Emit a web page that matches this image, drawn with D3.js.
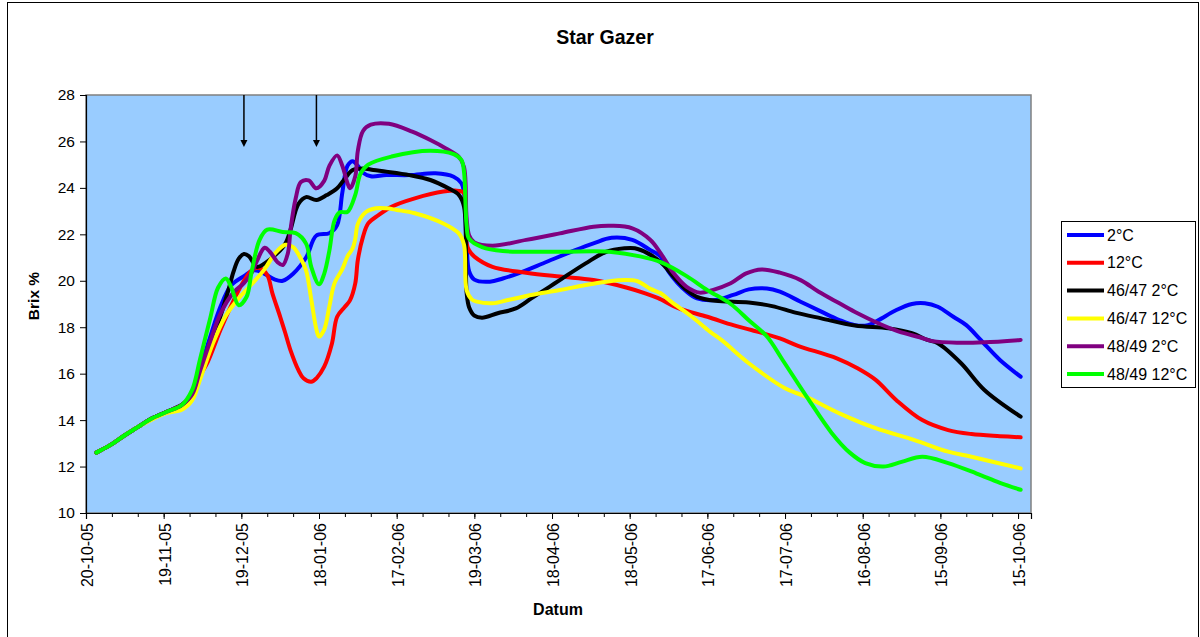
<!DOCTYPE html>
<html>
<head>
<meta charset="utf-8">
<script src="https://cdn.jsdelivr.net/npm/d3@7"></script>
<style>
  body { margin: 0; background: #fff; }
  svg { display: block; }
  text { font-family: "Liberation Sans", Arial, sans-serif; fill: #000; }
</style>
</head>
<body>
<svg id="chart" width="1200" height="637"></svg>
<script>
// ---- data -------------------------------------------------------------
// Day numbers count from the first date on the axis (20-10-05).
const firstDay = "20-10-05";
const xTickLabels = ["20-10-05","19-11-05","19-12-05","18-01-06","17-02-06","19-03-06",
  "18-04-06","18-05-06","17-06-06","17-07-06","16-08-06","15-09-06","15-10-06"];
const yTicks = [10, 12, 14, 16, 18, 20, 22, 24, 26, 28];
const arrowDays = [61, 89];

const seriesNames  = ["2°C", "12°C", "46/47 2°C", "46/47 12°C", "48/49 2°C", "48/49 12°C"];
const seriesColors = ["#0000FF", "#FF0000", "#000000", "#FFFF00", "#800080", "#00FF00"];

const days2C = [4,9,15,20,25,31,37,41,44,48,52,56,61,65,69,73,76,80,85,89,94,97,99,101,103,105,107,110,116,125,135,142,145,146,147,148,150,156,161,167,178,189,196,203,211,218,222,225,232,236,243,250,256,263,268,276,284,291,297,302,306,313,319,324,329,335,340,345,348,353,361];
const brix2C = [12.6,12.9,13.35,13.7,14.05,14.35,14.65,15.1,16.2,17.6,18.9,19.8,20.2,20.45,20.3,20.05,20.0,20.3,21.0,21.95,22.05,22.4,23.8,24.95,25.15,24.95,24.65,24.5,24.55,24.55,24.63,24.48,24.2,23.8,21.6,20.4,20.05,19.96,20.1,20.32,20.82,21.32,21.61,21.85,21.76,21.32,21.04,20.4,19.53,19.24,19.17,19.39,19.63,19.67,19.53,19.1,18.67,18.31,18.09,18.09,18.3,18.74,19.0,19.03,18.88,18.45,18.09,17.52,17.16,16.59,15.87];

const days12C = [4,9,15,20,25,31,37,41,44,47,52,57,61,64,67,70,72,75,77,79,82,84,87,89,92,95,97,100,102,104,105,107,109,113,118,127,138,144,146,147,148,150,157,170,183,196,209,216,221,229,240,250,257,268,275,290,298,305,313,323,333,342,353,361];
const brix12C = [12.6,12.9,13.35,13.7,14.05,14.35,14.65,15.1,15.9,16.5,17.9,19.15,20.0,20.45,20.55,20.25,19.46,18.45,17.74,17.0,16.16,15.8,15.65,15.8,16.3,17.3,18.45,18.88,19.17,19.89,20.9,21.9,22.47,22.83,23.19,23.55,23.84,23.87,23.77,21.6,21.3,21.04,20.6,20.35,20.18,20.03,19.7,19.46,19.25,18.81,18.45,18.09,17.88,17.52,17.2,16.66,16.23,15.73,14.86,14.0,13.57,13.4,13.31,13.26];

const days4647_2C = [4,9,15,20,25,31,37,41,44,48,52,55,57,59,61,63,66,69,74,77,79,82,85,89,93,97,100,103,107,111,116,125,133,140,144,146,147,148,150,153,159,166,172,179,183,193,201,208,212,217,222,227,232,236,243,256,265,274,284,297,310,319,325,329,338,347,361];
const brix4647_2C = [12.6,12.9,13.35,13.7,14.05,14.35,14.65,15.1,16.0,17.2,18.5,19.6,20.4,20.95,21.15,21.05,20.6,20.75,21.2,21.6,22.2,23.3,23.6,23.48,23.69,23.98,24.4,24.77,24.84,24.77,24.7,24.55,24.34,23.98,23.7,23.2,19.5,18.85,18.5,18.41,18.6,18.81,19.24,19.74,20.03,20.75,21.25,21.4,21.4,21.18,20.8,20.17,19.6,19.31,19.14,19.06,18.91,18.63,18.38,18.07,17.95,17.74,17.45,17.31,16.45,15.3,14.15];

const days4647_12C = [4,9,15,20,25,31,37,41,44,49,54,59,64,69,73,77,80,83,85,87,89,90,92,94,96,99,101,103,104,105,108,112,116,120,127,138,144,146,147,149,151,157,163,172,183,193,201,208,213,218,222,226,234,241,246,256,270,278,291,305,320,333,342,361];
const brix4647_12C = [12.6,12.9,13.35,13.7,14.0,14.3,14.45,14.85,15.73,17.3,18.5,19.25,19.85,20.5,21.18,21.55,21.45,20.95,20.45,19.2,17.9,17.6,17.9,18.9,19.9,20.5,21.05,21.4,21.8,22.45,22.95,23.12,23.12,23.05,22.91,22.47,22.04,21.55,19.6,19.2,19.1,19.03,19.17,19.39,19.6,19.82,19.96,20.03,19.98,19.65,19.46,19.1,18.45,17.81,17.4,16.45,15.37,15.01,14.29,13.65,13.14,12.64,12.42,11.92];

const days4849_2C = [4,9,15,20,25,31,37,41,44,48,52,57,61,64,66,69,71,74,76,78,79,81,83,86,89,92,94,97,99,101,102,104,105,107,110,117,126,133,139,144,146,147,148,150,157,170,183,196,203,211,218,222,227,232,237,242,249,255,261,268,276,283,291,298,306,314,322,327,337,347,361];
const brix4849_2C = [12.6,12.9,13.35,13.7,14.05,14.35,14.65,15.1,16.1,17.4,18.6,19.5,19.9,20.35,20.85,21.42,21.25,20.8,20.68,21.2,22.2,23.55,24.25,24.32,23.98,24.3,24.95,25.4,24.95,24.2,23.98,24.5,25.6,26.45,26.72,26.76,26.42,26.06,25.7,25.34,24.9,22.7,21.95,21.65,21.51,21.76,22.04,22.33,22.37,22.26,21.76,21.18,20.32,19.74,19.49,19.6,19.89,20.32,20.49,20.35,20.03,19.53,19.03,18.6,18.17,17.81,17.57,17.4,17.33,17.35,17.45];

const days4849_12C = [4,9,15,20,25,31,37,41,44,48,51,54,56,59,62,64,67,70,76,81,85,87,90,92,94,96,98,101,104,106,109,118,133,142,145,146,147,148,153,161,183,202,214,222,232,240,249,256,263,269,279,288,295,301,308,315,323,333,344,353,361];
const brix4849_12C = [12.6,12.9,13.35,13.7,14.05,14.35,14.65,15.3,16.6,18.4,19.7,20.1,19.75,18.95,19.3,20.4,21.75,22.2,22.1,22.05,21.6,20.6,19.85,20.3,21.3,22.6,22.95,22.97,23.7,24.6,25.0,25.35,25.6,25.45,25.2,24.7,22.4,21.8,21.45,21.28,21.25,21.25,21.05,20.8,20.2,19.6,19.0,18.3,17.6,16.6,14.9,13.45,12.6,12.15,12.0,12.2,12.42,12.15,11.7,11.3,11.0];

const seriesDays = [days2C, days12C, days4647_2C, days4647_12C, days4849_2C, days4849_12C];
const seriesBrix = [brix2C, brix12C, brix4647_2C, brix4647_12C, brix4849_2C, brix4849_12C];

// ---- setup ------------------------------------------------------------
const parseLabel = d3.timeParse("%d-%m-%y");
const fmtLabel = d3.timeFormat("%d-%m-%y");
const start = parseLabel(firstDay);
const dayToDate = d => d3.timeDay.offset(start, d);

const svg = d3.select("#chart");
const plot = { left: 86, right: 1031, top: 95, bottom: 513 };

const x = d3.scaleTime()
  .domain([start, dayToDate(365)])
  .range([plot.left, plot.right]);
const y = d3.scaleLinear()
  .domain([10, 28])
  .range([plot.bottom, plot.top]);

// outer chart frame
svg.append("rect")
  .attr("x", 7.5).attr("y", 2.5)
  .attr("width", 1191).attr("height", 640)
  .attr("fill", "#fff").attr("stroke", "#000").attr("stroke-width", 1);

// plot area
svg.append("rect")
  .attr("x", plot.left).attr("y", plot.top)
  .attr("width", plot.right - plot.left).attr("height", plot.bottom - plot.top)
  .attr("fill", "#99CCFF").attr("stroke", "#808080").attr("stroke-width", 1.5);

// title
svg.append("text")
  .attr("x", 605).attr("y", 44)
  .attr("text-anchor", "middle")
  .style("font-size", "19.5px").style("font-weight", "bold")
  .text("Star Gazer");

// ---- axes -------------------------------------------------------------
const yAxis = d3.axisLeft(y).tickValues(yTicks).tickSize(6).tickPadding(5)
  .tickFormat(d3.format("d"));
const gy = svg.append("g").attr("transform", `translate(${plot.left},0)`).call(yAxis);
gy.select(".domain").attr("stroke", "#000").attr("stroke-width", 1.2);
gy.selectAll(".tick line").attr("stroke", "#000");
gy.selectAll(".tick text").style("font-size", "15.5px").style("font-family", "Liberation Sans, Arial, sans-serif");

// minor ticks every 10 days
const minorDates = d3.range(0, 361, 10).map(dayToDate);
svg.append("g").attr("transform", `translate(0,${plot.bottom})`)
  .call(d3.axisBottom(x).tickValues(minorDates).tickSize(4).tickFormat(""))
  .call(g => g.select(".domain").remove())
  .selectAll(".tick line").attr("stroke", "#000");

const majorDates = xTickLabels.map(parseLabel);
const xAxis = d3.axisBottom(x).tickValues(majorDates).tickSize(6).tickFormat(fmtLabel);
const gx = svg.append("g").attr("transform", `translate(0,${plot.bottom})`).call(xAxis);
gx.select(".domain").attr("stroke", "#000").attr("stroke-width", 1.2);
gx.selectAll(".tick line").attr("stroke", "#000");
gx.selectAll(".tick text")
  .style("font-size", "16px").style("font-family", "Liberation Sans, Arial, sans-serif")
  .attr("transform", "rotate(-90)")
  .attr("x", -10).attr("y", 1).attr("dy", "0.35em")
  .style("text-anchor", "end");

// axis titles
svg.append("text")
  .attr("transform", "translate(39,296) rotate(-90)")
  .attr("text-anchor", "middle")
  .style("font-size", "15.5px").style("font-weight", "bold")
  .text("Brix %");
svg.append("text")
  .attr("x", 558).attr("y", 615)
  .attr("text-anchor", "middle")
  .style("font-size", "16px").style("font-weight", "bold")
  .text("Datum");

// ---- series -----------------------------------------------------------
const line = d3.line()
  .x(d => x(d.date))
  .y(d => y(d.value))
  .curve(d3.curveCatmullRom.alpha(0.5));

const series = seriesNames.map((name, i) => ({
  name,
  color: seriesColors[i],
  values: seriesDays[i].map((d, j) => ({ date: dayToDate(d), value: seriesBrix[i][j] }))
}));

svg.append("clipPath").attr("id", "plotClip")
  .append("rect").attr("x", plot.left).attr("y", plot.top)
  .attr("width", plot.right - plot.left).attr("height", plot.bottom - plot.top);

svg.append("g").attr("clip-path", "url(#plotClip)")
  .selectAll("path.series")
  .data(series)
  .join("path")
  .attr("class", "series")
  .attr("fill", "none")
  .attr("stroke", d => d.color)
  .attr("stroke-width", 4)
  .attr("stroke-linejoin", "round")
  .attr("stroke-linecap", "round")
  .attr("d", d => line(d.values));

// ---- arrows marking the two dates ------------------------------------
const arrowTipY = 147;
const ga = svg.append("g");
arrowDays.forEach(d => {
  const ax = x(dayToDate(d));
  ga.append("line")
    .attr("x1", ax).attr("x2", ax)
    .attr("y1", plot.top).attr("y2", arrowTipY - 6)
    .attr("stroke", "#000").attr("stroke-width", 1.5);
  ga.append("path")
    .attr("d", `M${ax - 3.5},${arrowTipY - 7} L${ax + 3.5},${arrowTipY - 7} L${ax},${arrowTipY} Z`)
    .attr("fill", "#000");
});

// ---- legend -----------------------------------------------------------
const legend = svg.append("g");
legend.append("rect")
  .attr("x", 1061.5).attr("y", 221.5)
  .attr("width", 134).attr("height", 166)
  .attr("fill", "#fff").attr("stroke", "#000").attr("stroke-width", 1);

const rowY = d3.scaleLinear().domain([0, 5]).range([235, 374]);
series.forEach((s, i) => {
  const ly = rowY(i);
  legend.append("line")
    .attr("x1", 1067).attr("x2", 1104)
    .attr("y1", ly).attr("y2", ly)
    .attr("stroke", s.color).attr("stroke-width", 4);
  legend.append("text")
    .attr("x", 1107).attr("y", ly + 5.5)
    .style("font-size", "16px")
    .text(s.name);
});
</script>
</body>
</html>
